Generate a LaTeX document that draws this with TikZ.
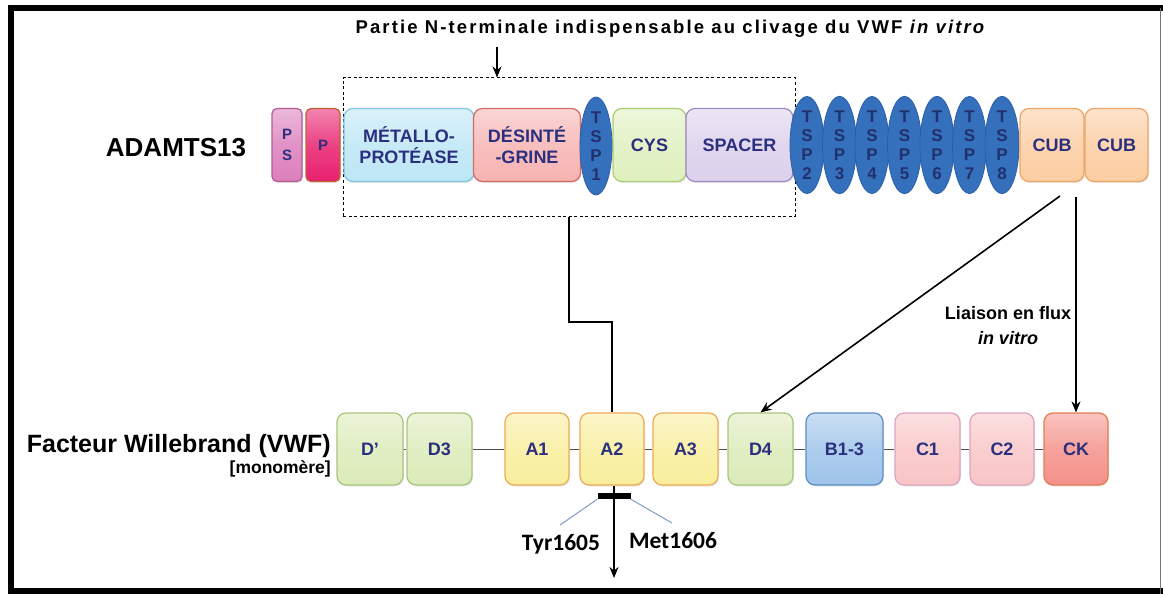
\documentclass[tikz,border=0pt]{standalone}
\usepackage{fontspec}
\setmainfont{Liberation Sans}
\newfontfamily\calfont{Carlito}
\newfontfamily\spacedfont[LetterSpace=11.5]{Liberation Sans}
\usetikzlibrary{arrows.meta,shapes.geometric,shadows}

\definecolor{txtnavy}{HTML}{2B2F7E}
\definecolor{tsptext}{HTML}{22306E}
\definecolor{psfill}{HTML}{DC7FBC}\definecolor{psdraw}{HTML}{B55A98}
\definecolor{pfill}{HTML}{E8206E}\definecolor{pdraw}{HTML}{C06030}
\definecolor{metfill}{HTML}{BDE6F5}\definecolor{metdraw}{HTML}{7CC6DE}
\definecolor{disfill}{HTML}{F6B4B2}\definecolor{disdraw}{HTML}{D26A66}
\definecolor{tspfill}{HTML}{3570BD}\definecolor{tspdraw}{HTML}{2A5FA8}
\definecolor{cysfill}{HTML}{DFF0BE}\definecolor{cysdraw}{HTML}{A9CD72}
\definecolor{spafill}{HTML}{DCD0EC}\definecolor{spadraw}{HTML}{9E8CC2}
\definecolor{cubfill}{HTML}{FCCDA2}\definecolor{cubdraw}{HTML}{EFA466}
\definecolor{dfill}{HTML}{DCEBB9}\definecolor{ddraw}{HTML}{A7C67E}
\definecolor{afill}{HTML}{F8EE9C}\definecolor{adraw}{HTML}{EFAA55}
\definecolor{bfill}{HTML}{9EC4EA}\definecolor{bdraw}{HTML}{5D8DC8}
\definecolor{cfill}{HTML}{F9C5C6}\definecolor{cdraw}{HTML}{DDA2C0}
\definecolor{ckfill}{HTML}{F4918A}\definecolor{ckdraw}{HTML}{E17E52}
\definecolor{tagline}{HTML}{7F9CC8}

\tikzset{
  dom/.style 2 args={draw=#2, line width=1.2pt, rounded corners=9pt,
    top color=#1!55!white, bottom color=#1, middle color=#1!85!white,
    text=txtnavy, font=\fontsize{18}{21}\selectfont\bfseries,
    align=center, inner sep=0pt,
    drop shadow={opacity=0.18, shadow xshift=1pt, shadow yshift=-1.5pt}},
  adam/.style={minimum height=73pt},
  vwf/.style={minimum height=72pt, minimum width=64pt},
  tsp/.style={ellipse, draw=tspdraw, fill=tspfill, line width=0.8pt,
    minimum width=34pt, minimum height=96pt, inner sep=0pt,
    text=tsptext, font=\fontsize{17}{19}\selectfont\bfseries, align=center},
  arrowline/.style={draw=black, line width=1.6pt, -{Stealth[length=11pt,width=9pt]}},
  plainline/.style={draw=black, line width=1.6pt},
  label/.style={font=\bfseries, text=black, inner sep=0pt}
}

\begin{document}
\begin{tikzpicture}[x=1pt,y=-1pt]
\useasboundingbox (0,0) rectangle (1163,594);
\fill[white] (0,0) rectangle (1163,594);

% frame
\draw[line width=6pt] (11,594) -- (11,8) -- (1163,8);
\draw[line width=6pt] (8,591) -- (1163,591);
\draw[line width=1.5pt, black!55] (1160.5,8) -- (1160.5,594);

% heading and its arrow
\node[label, anchor=center, font=\spacedfont\fontsize{18.5}{22}\selectfont\bfseries] (title) at (671,29)
  {Partie N-terminale indispensable au clivage du VWF \textit{in vitro}};
\coordinate (ttop) at (497,47);

% N-terminal region outline
\node[draw, dashed, line width=1pt, dash pattern=on 3pt off 2.5pt,
  minimum width=452pt, minimum height=138pt, inner sep=0pt] (nterm) at (569,147) {};
\draw[arrowline] (ttop) -- (ttop |- nterm.north);

% ADAMTS13 domains
\node[label, font=\fontsize{26}{30}\selectfont\bfseries] (adamts) at (176,148) {ADAMTS13};
\node[dom={psfill}{psdraw}, adam, minimum width=30pt, rounded corners=5pt,
  font=\fontsize{15}{21}\selectfont\bfseries] (ps) at (287,145) {P\\S};
\node[dom={pfill}{pdraw}, adam, minimum width=34pt, rounded corners=5pt,
  font=\fontsize{15}{21}\selectfont\bfseries] (p) at (323,145) {P};
\node[dom={metfill}{metdraw}, adam, minimum width=130pt] (metallo) at (409,145) {MÉTALLO-\\PROTÉASE};
\node[dom={disfill}{disdraw}, adam, minimum width=107pt] (desint) at (527,145) {DÉSINTÉ\\-GRINE};
\node[dom={cysfill}{cysdraw}, adam, minimum width=73pt] (cys) at (649.5,145) {CYS};
\node[dom={spafill}{spadraw}, adam, minimum width=107pt] (spacer) at (739.5,145) {SPACER};
\node[tsp, minimum width=32pt, minimum height=98pt] (tsp1) at (596,146) {T\\S\\P\\1};
\node[tsp] (tsp2) at (807,145) {T\\S\\P\\2};
\node[tsp] (tsp3) at (839.5,145) {T\\S\\P\\3};
\node[tsp] (tsp4) at (872,145) {T\\S\\P\\4};
\node[tsp] (tsp5) at (904.5,145) {T\\S\\P\\5};
\node[tsp] (tsp6) at (937,145) {T\\S\\P\\6};
\node[tsp] (tsp7) at (969.5,145) {T\\S\\P\\7};
\node[tsp] (tsp8) at (1002,145) {T\\S\\P\\8};
\node[dom={cubfill}{cubdraw}, adam, minimum width=64pt] (cub1) at (1052,145) {CUB};
\node[dom={cubfill}{cubdraw}, adam, minimum width=63pt] (cub2) at (1116.5,145) {CUB};

% VWF labels
\node[label, anchor=east, font=\fontsize{25}{29}\selectfont\bfseries] (vwflab) at (331,446) {Facteur Willebrand (VWF)};
\node[label, anchor=east, font=\fontsize{17.5}{20}\selectfont\bfseries] (mono) at (331,469) {[monomère]};

% VWF domains
\node[dom={dfill}{ddraw}, vwf, minimum width=66pt] (dp) at (370,449) {D’};
\node[dom={dfill}{ddraw}, vwf, minimum width=65pt] (d3) at (439.5,449) {D3};
\node[dom={afill}{adraw}, vwf] (a1) at (537,449) {A1};
\node[dom={afill}{adraw}, vwf] (a2) at (612,449) {A2};
\node[dom={afill}{adraw}, vwf, minimum width=65pt] (a3) at (685.5,449) {A3};
\node[dom={dfill}{ddraw}, vwf, minimum width=65pt] (d4) at (760.5,449) {D4};
\node[dom={bfill}{bdraw}, vwf, minimum width=77pt] (b13) at (844.5,449) {B1-3};
\node[dom={cfill}{cdraw}, vwf, minimum width=65pt] (c1) at (927.5,449) {C1};
\node[dom={cfill}{cdraw}, vwf] (c2) at (1002,449) {C2};
\node[dom={ckfill}{ckdraw}, vwf] (ck) at (1076,449) {CK};

% VWF backbone between domains
\foreach \u/\v in {dp/d3,d3/a1,a1/a2,a2/a3,a3/d4,d4/b13,b13/c1,c1/c2,c2/ck}
  \draw[black!70, line width=1pt] (\u.east) -- (\v.west);

% cleavage path through A2
\coordinate (bend) at (569,322);
\draw[plainline] (nterm.south) -- (bend) -| (a2.north);
\node[fill=black, minimum width=33pt, minimum height=6pt, inner sep=0pt] (cut) at (614,496) {};
\coordinate (cutend) at (614,578);
\draw[arrowline] (a2.south -| cut) -- (cutend);
\coordinate (tyrend) at (560,525);
\coordinate (metend) at (672,523);
\draw[tagline, line width=1pt] (cut.south west) -- (tyrend);
\draw[tagline, line width=1pt] (cut.south east) -- (metend);
\node[label, font=\calfont\fontsize{23.5}{27}\selectfont\bfseries] (tyr) at (561,544) {Tyr1605};
\node[label, font=\calfont\fontsize{23.5}{27}\selectfont\bfseries] (met) at (673,541) {Met1606};

% CUB binding arrows
\coordinate (cubA) at (1060,196);
\coordinate (cubB) at (1076,197);
\draw[arrowline] (cubA) -- (d4.north);
\draw[arrowline] (cubB) -- (ck.north);
\node[label, align=center, font=\fontsize{18}{25}\selectfont\bfseries] (liaison) at (1008,326)
  {Liaison en flux\\\textit{in vitro}};
\end{tikzpicture}
\end{document}
